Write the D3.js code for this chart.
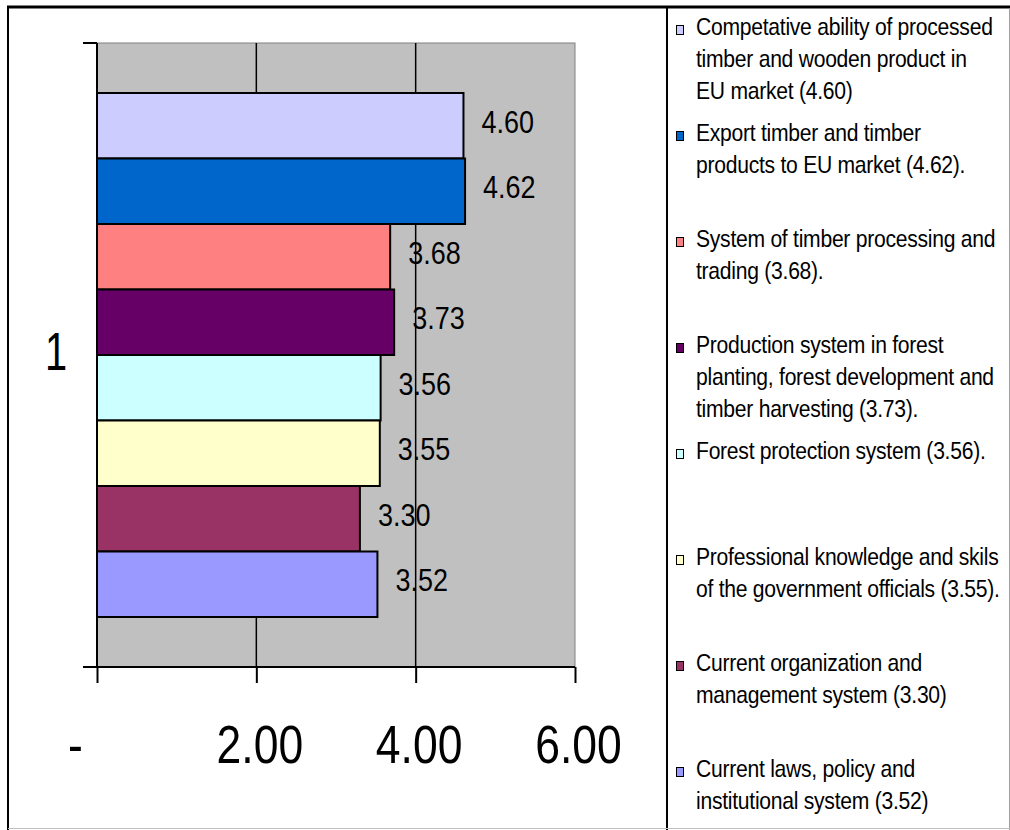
<!DOCTYPE html>
<html><head><meta charset="utf-8">
<script src="https://cdn.jsdelivr.net/npm/d3@7"></script>
<style>body{margin:0;background:#fff}svg{display:block}</style></head>
<body><svg id="c" width="1010" height="830"></svg>
<script>
const categories = ["1"];
const seriesLines = [
  ["Competative ability of processed", "timber and wooden product in", "EU market (4.60)"],
  ["Export timber and timber", "products to EU market (4.62)."],
  ["System of timber processing and", "trading (3.68)."],
  ["Production system in forest", "planting, forest development and", "timber harvesting (3.73)."],
  ["Forest protection system (3.56)."],
  ["Professional knowledge and skils", "of the government officials (3.55)."],
  ["Current organization and", "management system (3.30)"],
  ["Current laws, policy and", "institutional system (3.52)"]
];
const values = [4.60, 4.62, 3.68, 3.73, 3.56, 3.55, 3.30, 3.52];
const valueLabels = ["4.60", "4.62", "3.68", "3.73", "3.56", "3.55", "3.30", "3.52"];
const colors = ["#CCCCFF", "#0066CC", "#FF8080", "#660066", "#CCFFFF", "#FFFFCC", "#993366", "#9999FF"];
const xTicks = [0, 2, 4, 6];
const xTickLabels = ["-", "2.00", "4.00", "6.00"];

const SX = 0.8;
const FONT = "'Liberation Sans', Arial, sans-serif";
const svg = d3.select("#c");

const plot = {left: 97, right: 575, top: 43, bottom: 667};
const x = d3.scaleLinear().domain([0, 6]).range([plot.left, plot.right]);
const y0 = d3.scaleBand().domain(categories).range([plot.top, plot.bottom]);
const catC = y0(categories[0]) + y0.bandwidth() / 2;
const ys = d3.scaleBand().domain(d3.range(values.length)).range([catC - 262, catC + 262]);

// plot area
svg.append("rect").attr("x", plot.left).attr("y", plot.top)
  .attr("width", plot.right - plot.left).attr("height", plot.bottom - plot.top)
  .attr("fill", "#C0C0C0").attr("stroke", "#808080").attr("stroke-width", 1);

// gridlines
svg.append("g").selectAll("line").data(xTicks.filter(d => d > 0 && d < 6)).join("line")
  .attr("x1", d => x(d)).attr("x2", d => x(d))
  .attr("y1", plot.top).attr("y2", plot.bottom)
  .attr("stroke", "#000").attr("stroke-width", 1.5);

// bars
svg.append("g").selectAll("rect").data(values).join("rect")
  .attr("x", x(0)).attr("y", (d, i) => ys(i))
  .attr("width", d => x(d) - x(0)).attr("height", ys.bandwidth())
  .attr("fill", (d, i) => colors[i]).attr("stroke", "#000").attr("stroke-width", 2);

// data labels
svg.append("g").selectAll("text").data(values).join("text")
  .attr("transform", (d, i) => `translate(${x(d) + 18},${ys(i) + ys.bandwidth() / 2 + 7}) scale(0.87,1)`)
  .attr("font-family", FONT).attr("font-size", 31).attr("fill", "#000")
  .text((d, i) => valueLabels[i]);

// x axis
const xAxis = d3.axisBottom(x).tickValues(xTicks).tickSize(16).tickSizeOuter(0)
  .tickFormat((d, i) => xTickLabels[i]);
const gx = svg.append("g").attr("transform", `translate(0,${plot.bottom})`).call(xAxis);
gx.select(".domain").remove();
gx.selectAll(".tick line").attr("stroke", "#000").attr("stroke-width", 2);
gx.selectAll(".tick text")
  .attr("y", null).attr("dy", null)
  .attr("transform", (d, i) => `translate(${i === 0 ? -22 : 3},96) scale(0.84,1)`)
  .attr("font-family", FONT).attr("font-size", 53).attr("fill", "#000");
svg.append("line").attr("x1", plot.left - 14).attr("x2", plot.right)
  .attr("y1", plot.bottom).attr("y2", plot.bottom).attr("stroke", "#000").attr("stroke-width", 2);

// y axis (category)
svg.append("line").attr("x1", plot.left).attr("x2", plot.left)
  .attr("y1", plot.top).attr("y2", plot.bottom).attr("stroke", "#000").attr("stroke-width", 2);
const edges = [y0(categories[0]), y0(categories[0]) + y0.bandwidth()];
svg.append("g").selectAll("line").data(edges).join("line")
  .attr("x1", plot.left - 14).attr("x2", plot.left)
  .attr("y1", d => d).attr("y2", d => d).attr("stroke", "#000").attr("stroke-width", 2);
svg.append("g").selectAll("text").data(categories).join("text")
  .attr("transform", d => `translate(56,${y0(d) + y0.bandwidth() / 2 + 15}) scale(0.75,1)`)
  .attr("text-anchor", "middle").attr("font-family", FONT).attr("font-size", 53).attr("fill", "#000")
  .text(d => d);

// legend
const lg = svg.append("g").selectAll("g").data(seriesLines).join("g")
  .attr("transform", (d, i) => `translate(0,${35 + i * 106})`);
lg.append("rect").attr("x", 676.5).attr("y", -9.5).attr("width", 7).attr("height", 9)
  .attr("fill", (d, i) => colors[i]).attr("stroke", "#000").attr("stroke-width", 1);
lg.each(function (lines) {
  d3.select(this).selectAll("text").data(lines).join("text")
    .attr("transform", (t, j) => `translate(696,${j * 32}) scale(0.88,1)`)
    .attr("font-family", FONT).attr("font-size", 24).attr("fill", "#000")
    .attr("letter-spacing", -0.3)
    .text(t => t);
});

// frame
svg.append("line").attr("x1", 7).attr("x2", 1010).attr("y1", 7).attr("y2", 7).attr("stroke", "#000").attr("stroke-width", 3);
svg.append("line").attr("x1", 8).attr("x2", 8).attr("y1", 6).attr("y2", 830).attr("stroke", "#000").attr("stroke-width", 2);
svg.append("line").attr("x1", 667).attr("x2", 667).attr("y1", 6).attr("y2", 830).attr("stroke", "#000").attr("stroke-width", 2);
svg.append("line").attr("x1", 1009.5).attr("x2", 1009.5).attr("y1", 8).attr("y2", 830).attr("stroke", "#A0A0A0").attr("stroke-width", 1);
svg.append("line").attr("x1", 8).attr("x2", 1010).attr("y1", 828.5).attr("y2", 828.5).attr("stroke", "#C0C0C0").attr("stroke-width", 1);
</script></body></html>
